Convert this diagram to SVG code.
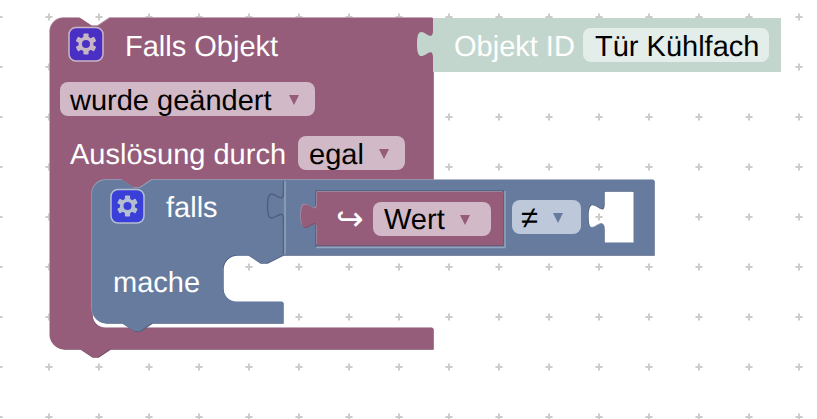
<svg xmlns="http://www.w3.org/2000/svg" width="817" height="419" viewBox="0 0 817 419">
<style>
text{font-family:"Liberation Sans",Arial,sans-serif;font-size:29px;text-rendering:geometricPrecision}
.w{fill:#fff}.k{fill:#000}
.p{fill:#955d7a}.pl{fill:#b48da3}.pd{fill:#774a61}
.b{fill:#667b9e}.bl{fill:#94a3bb}.bd{fill:#4f6080}
.pf{fill:#d1b9c8}.bf{fill:#bdc8da}.gf{fill:#e3eeea}
.pa{fill:#955d7a}.ba{fill:#667b9e}
</style>
<defs>
<pattern id="grid" x="24" y="-8" width="50" height="50" patternUnits="userSpaceOnUse">
<path d="M25,21.500V28.500M21.500,25H28.500" stroke="#ccc" stroke-width="2" fill="none"/>
</pattern>
<path id="outer" fill-rule="evenodd" d="M50,32a14,14 0 0 1 14,-14H80l12,8h6l12,-8H433V180H152l-12,8h-6l-12,-8H106a14,14 0 0 0 -14,14V314a14,14 0 0 0 14,14H433V349H110l-12,8h-6l-12,-8H64a14,14 0 0 1 -14,-14Z"/>
<path id="inner" fill-rule="evenodd" d="M92,194a14,14 0 0 1 14,-14H122l12,8h6l12,-8H654V255H283l-16,8h-7l-12,-8H237a14,14 0 0 0 -14,14V288a14,14 0 0 0 14,14H283V323H152l-12,8h-6l-12,-8H106a14,14 0 0 1 -14,-14ZM604,191V203c0,18 -16,-14 -16,13s16,-4 16,13V243H634V191Z"/>
<path id="wert" d="M317,192H503V245H317V229c0,-18 -16,14 -16,-13s16,4 16,-13Z"/>
<path id="green" d="M433,18H781V72H433V58c0,-18 -16,14 -16,-14s16,4 16,-14Z"/>
<g id="gear">
<circle r="7.500"/>
<rect x="-2.600" y="-10.500" width="5.200" height="21" rx="1"/>
<rect x="-2.600" y="-10.500" width="5.200" height="21" rx="1" transform="rotate(60)"/>
<rect x="-2.600" y="-10.500" width="5.200" height="21" rx="1" transform="rotate(120)"/>
</g>
</defs>
<rect width="817" height="419" fill="#fff"/>
<rect width="817" height="419" fill="url(#grid)"/>

<g id="node-falls-objekt">
<use href="#outer" class="pl" x="-0.700" y="-0.700"/>
<use href="#outer" class="pd" x="0.700" y="0.700"/>
<use href="#outer" class="p"/>
<rect x="69" y="27.500" width="34" height="33.500" rx="7" fill="#4a2fc4" stroke="#c9b6c4" stroke-width="1.500"/>
<use href="#gear" x="86" y="44" fill="#c9b6c4"/>
<circle cx="86" cy="44" r="4" fill="#4a2fc4"/>
<text class="w" x="125" y="56">Falls Objekt</text>
<rect class="pf" x="60" y="82" width="255" height="34" rx="8"/>
<text class="k" x="70" y="110">wurde geändert</text>
<polygon class="pa" points="289,95 299,95 294,105"/>
<text class="w" x="70" y="164">Auslösung durch</text>
<rect class="pf" x="298" y="136" width="107" height="34" rx="8"/>
<text class="k" x="309" y="164">egal</text>
<polygon class="pa" points="379,149 389,149 384,159"/>
</g>

<g id="node-objekt-id">
<use href="#green" fill="#c3d6cd"/>
<rect class="gf" x="583" y="28" width="186" height="34" rx="8"/>
<text class="w" x="454" y="56">Objekt ID</text>
<text class="k" x="595" y="56">Tür Kühlfach</text>
</g>

<g id="node-falls">
<use href="#inner" class="bl" x="-0.700" y="-0.700"/>
<use href="#inner" class="bd" x="0.700" y="0.700"/>
<use href="#inner" class="b"/>
<path d="M283.500,181V192c0,18 -16,-14 -16,14s16,-4 16,14V254" fill="none" stroke="#4f6080" stroke-width="1.500"/>
<path d="M285,181V254" fill="none" stroke="#94a3bb" stroke-width="1.500"/>
<rect x="111" y="189.500" width="33" height="33.500" rx="7" fill="#3a3fd8" stroke="#b5bfd2" stroke-width="1.500"/>
<use href="#gear" x="127.500" y="206" fill="#b5bfd2"/>
<circle cx="127.500" cy="206" r="4" fill="#3a3fd8"/>
<text class="w" x="166" y="217">falls</text>
<text class="w" x="113" y="292">mache</text>
<rect class="bf" x="512" y="200" width="69" height="34" rx="8"/>
<text class="k" x="521" y="228" style="font-size:31px">≠</text>
<polygon class="ba" points="553,213 563,213 558,223"/>
<path d="M316,247.500H505V191" fill="none" stroke="#94a3bb" stroke-width="1.500"/>
<path d="M316,247V191H504" fill="none" stroke="#4f6080" stroke-width="1.500"/>
</g>

<g id="node-wert">
<use href="#wert" class="pl" x="-0.700" y="-0.700"/>
<use href="#wert" class="pd" x="0.700" y="0.700"/>
<use href="#wert" class="p"/>
<text class="w" x="336" y="230" style="font-family:'DejaVu Sans',sans-serif;font-size:33px">↪</text>
<rect class="pf" x="373" y="202" width="118" height="34" rx="8"/>
<text class="k" x="384" y="229">Wert</text>
<polygon class="pa" points="460,215 470,215 465,225"/>
</g>
<g id="connectors"/>
</svg>
